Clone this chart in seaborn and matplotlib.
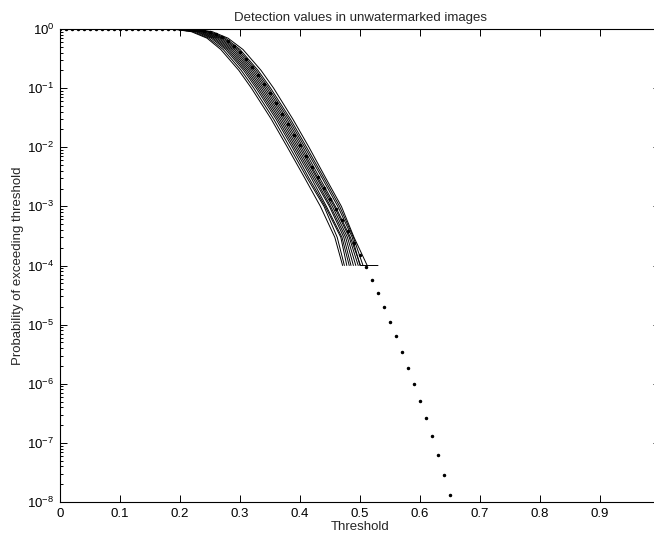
import numpy as np
import pandas as pd
import seaborn as sns
from matplotlib import pyplot as plt
from matplotlib.ticker import LogLocator, NullFormatter, FixedLocator, FixedFormatter

levels = [1.0, 1.0, 0.98, 0.9, 0.7, 0.45, 0.2, 0.1, 0.03, 0.01, 3e-3, 1e-3, 3e-4, 1e-4]

# threshold where each measured curve crosses the levels above (first point: x=0)
curve_x = {
    "c1":  [0.0, 0.168, 0.193, 0.219, 0.245, 0.268, 0.298, 0.319, 0.352, 0.379, 0.408, 0.434, 0.458, 0.471],
    "c2":  [0.0, 0.17, 0.196, 0.222, 0.248, 0.272, 0.302, 0.323, 0.356, 0.383, 0.412, 0.44, 0.462, 0.474],
    "c3":  [0.0, 0.174, 0.2, 0.226, 0.252, 0.276, 0.306, 0.327, 0.36, 0.387, 0.415, 0.442, 0.468, 0.478],
    "c4":  [0.0, 0.176, 0.203, 0.229, 0.255, 0.279, 0.309, 0.33, 0.363, 0.39, 0.419, 0.444, 0.47, 0.482],
    "c5":  [0.0, 0.179, 0.206, 0.232, 0.258, 0.282, 0.312, 0.333, 0.366, 0.393, 0.422, 0.449, 0.473, 0.485],
    "c6":  [0.0, 0.182, 0.209, 0.235, 0.261, 0.285, 0.315, 0.336, 0.369, 0.396, 0.425, 0.451, 0.476, 0.489],
    "c7":  [0.0, 0.185, 0.212, 0.238, 0.264, 0.288, 0.318, 0.339, 0.372, 0.399, 0.428, 0.454, 0.479, 0.493],
    "c8":  [0.0, 0.188, 0.215, 0.241, 0.267, 0.291, 0.321, 0.342, 0.375, 0.402, 0.43, 0.457, 0.482, 0.497],
    "c9":  [0.0, 0.19, 0.218, 0.244, 0.27, 0.294, 0.324, 0.345, 0.378, 0.405, 0.433, 0.459, 0.484, 0.501],
    "c10": [0.0, 0.193, 0.221, 0.247, 0.273, 0.297, 0.327, 0.348, 0.381, 0.408, 0.437, 0.463, 0.487, 0.5],
    "c11": [0.0, 0.196, 0.224, 0.25, 0.276, 0.3, 0.33, 0.351, 0.384, 0.411, 0.44, 0.466, 0.489, 0.505],
    "c12": [0.0, 0.2, 0.228, 0.254, 0.28, 0.305, 0.335, 0.356, 0.388, 0.415, 0.443, 0.469, 0.49, 0.512],
}
# last-sample tails that run along 1e-4
tail_x = {"c12": 0.53, "c9": 0.512}

# theoretical curve, sampled every 0.01 from 0 to 0.65 (log10 of probability)
theory_x = [round(0.01 * i, 2) for i in range(66)]
theory_log10 = [0.0] * 21 + [
    -0.003, -0.008, -0.015, -0.03, -0.05, -0.08, -0.13, -0.2, -0.29, -0.39,
    -0.51, -0.64, -0.78, -0.93, -1.09, -1.26, -1.43, -1.61, -1.79, -1.97,
    -2.15, -2.33, -2.51, -2.69, -2.87, -3.05, -3.23, -3.42, -3.62, -3.82,
    -4.03, -4.25, -4.47, -4.71, -4.96, -5.20, -5.46, -5.73, -6.00, -6.29,
    -6.58, -6.89, -7.21, -7.54, -7.88,
]

xticks = [0.0, 0.1, 0.2, 0.3, 0.4, 0.5, 0.6, 0.7, 0.8, 0.9]
xtick_labels = ["0", "0.1", "0.2", "0.3", "0.4", "0.5", "0.6", "0.7", "0.8", "0.9"]

sns.set_style("ticks")
plt.rcParams["font.family"] = ["Liberation Sans", "DejaVu Sans"]
plt.rcParams["mathtext.default"] = "regular"

rows = []
for name, xs in curve_x.items():
    pts = list(zip(xs, levels))
    if name in tail_x:
        pts.append((tail_x[name], 1e-4))
    for i, (x, p) in enumerate(pts):
        rows.append({"curve": name, "order": i, "x": x, "p": p})
df = pd.DataFrame(rows)
theory = pd.DataFrame({"x": theory_x, "p": 10.0 ** np.array(theory_log10)})

fig = plt.figure(figsize=(6.54, 5.42), dpi=100)
ax = fig.add_axes([60 / 654, 40 / 542, 600 / 654, 473 / 542])

sns.lineplot(data=df, x="x", y="p", units="curve", estimator=None, sort=False,
             color="black", linewidth=0.7, ax=ax)
ax.plot(theory["x"], theory["p"], linestyle="none", marker=".", markersize=3,
        color="black")

ax.set_yscale("log")
ax.set_xlim(0, 1)
ax.set_ylim(1e-8, 1)
ax.xaxis.set_major_locator(FixedLocator(xticks))
ax.xaxis.set_major_formatter(FixedFormatter(xtick_labels))
ax.yaxis.set_major_locator(LogLocator(base=10, numticks=20))
ax.yaxis.set_minor_locator(LogLocator(base=10, subs=np.arange(2, 10), numticks=100))
ax.yaxis.set_minor_formatter(NullFormatter())

ax.tick_params(which="both", direction="in", top=True, right=True,
               labelsize=9.5, colors="black", width=0.7)
ax.tick_params(which="major", length=5, pad=4)
ax.tick_params(which="minor", length=2.5)
for s in ax.spines.values():
    s.set_linewidth(0.8)
    s.set_color("black")

ax.set_title("Detection values in unwatermarked images", fontsize=9.5, pad=6)
ax.set_xlabel("Threshold", fontsize=9.5, labelpad=1)
ax.set_ylabel("Probability of exceeding threshold", fontsize=9.5, labelpad=2)

fig.savefig("out.png", dpi=100)
